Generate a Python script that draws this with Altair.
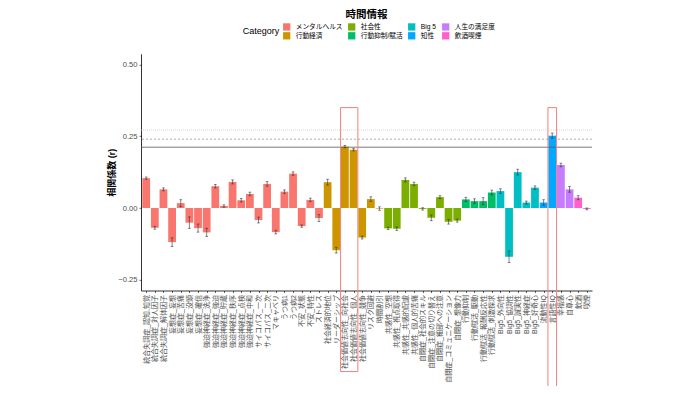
import json
import altair as alt
import pandas as pd

labels = [
    "統合失調症_認知,知覚", "統合失調症_対人因子", "統合失調症_解体因子",
    "妄想症_妄想", "妄想症_苦痛", "妄想症_没頭", "妄想症_確信",
    "強迫神経症_洗浄", "強迫神経症_強迫", "強迫神経症_貯蔵", "強迫神経症_秩序",
    "強迫神経症_点検", "強迫神経症_中和",
    "サイコパス_一次", "サイコパス_二次", "マキャベリ", "うつ病1", "うつ病2",
    "不安_状態", "不安_特性", "ストレス",
    "社会経済的地位", "リーダーシップ", "社会価値志向性_向社会", "社会価値志向性_個人",
    "社会価値志向性_競争", "リスク回避", "時間割引",
    "共感性_空想", "共感性_視点取得", "共感性_共感的配慮", "共感性_個人的苦痛",
    "自閉症_社会的スキル", "自閉症_注意の切り替え", "自閉症_細部への注意",
    "自閉症_コミュニケーション", "自閉症_想像力",
    "行動抑制", "行動賦活_駆動", "行動賦活_報酬反応性", "行動賦活_刺激探求",
    "Big5_外向性", "Big5_協調性", "Big5_誠実性", "Big5_神経症", "Big5_好奇心",
    "流動性IQ", "言語性IQ", "幸福感", "自尊心", "飲酒", "喫煙",
]
values = [
    0.104, -0.069, 0.065, -0.119, 0.017, -0.051, -0.070, -0.085, 0.076, 0.007,
    0.091, 0.027, 0.049, -0.042, 0.084, -0.084, 0.057, 0.120, -0.063, 0.028,
    -0.035,
    0.090, -0.147, 0.214, 0.203, -0.103, 0.031, -0.002,
    -0.071, -0.072, 0.098, 0.084, -0.003, -0.034, 0.038, -0.048, -0.044,
    0.030, 0.024, 0.024, 0.054,
    0.059, -0.170, 0.125, 0.019, 0.071,
    0.019, 0.252, 0.150, 0.065, 0.036, -0.003,
]
errors = [
    0.004, 0.005, 0.005, 0.015, 0.012, 0.020, 0.014, 0.014, 0.006, 0.004,
    0.007, 0.006, 0.006, 0.010, 0.008, 0.006, 0.006, 0.006, 0.004, 0.006,
    0.012,
    0.010, 0.010, 0.004, 0.004, 0.005, 0.008, 0.006,
    0.004, 0.006, 0.007, 0.006, 0.004, 0.010, 0.005, 0.008, 0.005,
    0.007, 0.008, 0.012, 0.008,
    0.008, 0.020, 0.010, 0.005, 0.006,
    0.010, 0.009, 0.006, 0.010, 0.007, 0.003,
]
group_names = ["メンタルヘルス", "行動経済", "社会性", "行動抑制/賦活",
               "Big 5", "知性", "人生の満足度", "飲酒喫煙"]
group_sizes = [21, 7, 9, 4, 5, 2, 2, 2]
group_colors = ["#F8766D", "#CD9600", "#7CAE00", "#00BE67",
                "#00BFC4", "#00A9FF", "#C77CFF", "#FF61CC"]
thresholds = [0.212, 0.240, 0.272]
highlight_first = ["社会価値志向性_向社会", "言語性IQ"]
highlight_last = ["社会価値志向性_個人", "言語性IQ"]
highlight_bottom = [-0.57, -0.625]
highlight_top = [0.35, 0.35]
y_ticks = [-0.25, 0.0, 0.25, 0.50]

FONT = "Liberation Sans, Noto Sans CJK JP, sans-serif"

cats = []
for n, s in zip(group_names, group_sizes):
    cats += [n] * s
idx = list(range(1, len(labels) + 1))
df = pd.DataFrame({"idx": idx, "label": labels, "value": values,
                   "err": errors, "Category": cats})
df["x0"] = df["idx"] - 0.45
df["x1"] = df["idx"] + 0.45
df["lo"] = df["value"] - df["err"]
df["hi"] = df["value"] + df["err"]
df["c0"] = df["idx"] - 0.15
df["c1"] = df["idx"] + 0.15
df["zero"] = 0.0

pos = {l: i + 1 for i, l in enumerate(labels)}
box_df = pd.DataFrame({
    "bx0": [pos[a] - 0.5 for a in highlight_first],
    "bx1": [pos[b] + 0.5 for b in highlight_last],
    "by0": highlight_bottom,
    "by1": highlight_top,
})
th_df = pd.DataFrame({"y": thresholds})

n = len(labels)
xscale = alt.Scale(domain=[0.4, n + 0.6], nice=False, zero=False)
yscale = alt.Scale(domain=[-0.2875, 0.5375], nice=False, zero=False)
legend_order = [group_names[i] for i in (0, 2, 4, 6, 1, 3, 5, 7)]
legend_colors = [group_colors[i] for i in (0, 2, 4, 6, 1, 3, 5, 7)]

label_expr = json.dumps(labels, ensure_ascii=False) + "[datum.value - 1]"

xaxis = alt.Axis(values=idx, labelExpr=label_expr, labelAngle=-90,
                 labelFontSize=7, labelColor="#4D4D4D", labelFont=FONT,
                 tickSize=2, tickColor="black", domainColor="black",
                 domainWidth=0.8, tickWidth=0.6, grid=False, title=None,
                 labelPadding=2, labelOverlap=False, labelFlush=False,
                 labelBound=False)
yaxis = alt.Axis(values=y_ticks, format=".2f", labelFontSize=7.6,
                 labelColor="#4D4D4D", labelFont=FONT, tickSize=2,
                 tickColor="black", domainColor="black", domainWidth=0.8,
                 tickWidth=0.6, grid=False, title="相関係数 (r)",
                 titleFont=FONT, titleFontSize=9, titleFontWeight="bold",
                 titleColor="black", titlePadding=1, labelPadding=2)


def X(field):
    return alt.X(field, type="quantitative", scale=xscale, axis=xaxis)


def Y(field):
    return alt.Y(field, type="quantitative", scale=yscale, axis=yaxis)


bars = alt.Chart(df).mark_bar().encode(
    x=X("x0"),
    x2="x1",
    y=Y("value"),
    y2="zero",
    color=alt.Color("Category:N",
                    scale=alt.Scale(domain=legend_order, range=legend_colors),
                    legend=alt.Legend(
                        orient="none", legendX=101.7, legendY=-31,
                        direction="horizontal", columns=4,
                        titleOrient="left", title="Category",
                        titleFontSize=9, titleFontWeight="normal",
                        titleColor="black", titleFont=FONT,
                        titlePadding=3, titleAnchor="middle",
                        titleBaseline="middle",
                        labelFontSize=6.7, labelFont=FONT, labelColor="black",
                        labelOffset=5, symbolType="square", symbolSize=53,
                        symbolStrokeWidth=0, rowPadding=1, columnPadding=5,
                        padding=0)),
)

rule_solid = alt.Chart(th_df.iloc[[0]]).mark_rule(
    color="#555555", strokeWidth=0.8).encode(y=Y("y"))
rule_dash = alt.Chart(th_df.iloc[[1]]).mark_rule(
    color="#888888", strokeWidth=0.7, strokeDash=[2, 2]).encode(y=Y("y"))
rule_dot = alt.Chart(th_df.iloc[[2]]).mark_rule(
    color="#CCCCCC", strokeWidth=0.7, strokeDash=[1, 1]).encode(y=Y("y"))

err_v = alt.Chart(df).mark_rule(color="#333333", strokeWidth=0.6).encode(
    x=X("idx"), y=Y("lo"), y2="hi")
cap_lo = alt.Chart(df).mark_rule(color="#333333", strokeWidth=0.6).encode(
    x=X("c0"), x2="c1", y=Y("lo"))
cap_hi = alt.Chart(df).mark_rule(color="#333333", strokeWidth=0.6).encode(
    x=X("c0"), x2="c1", y=Y("hi"))

boxes = alt.Chart(box_df).mark_rect(
    fillOpacity=0, stroke="#F08080", strokeWidth=1).encode(
    x=X("bx0"), x2="bx1", y=Y("by0"), y2="by1")

chart = alt.layer(
    bars, rule_solid, rule_dash, rule_dot, err_v, cap_lo, cap_hi, boxes
).properties(
    width=451, height=236.7,
    autosize=alt.AutoSizeParams(type="none"),
    padding={"left": 133, "top": 45.8, "right": 100, "bottom": 95},
    title=alt.TitleParams("時間情報", fontSize=10.5, fontWeight="bold",
                          anchor="middle", offset=2.5, color="black",
                          font=FONT),
).configure_view(strokeWidth=0).configure_axisX(labelOverlap=False)

chart.save("out.html", embed_options={"renderer": "svg", "actions": False})
